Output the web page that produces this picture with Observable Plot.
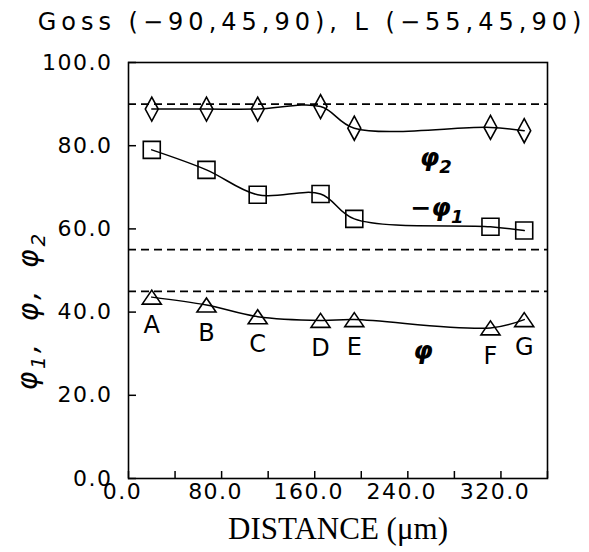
<!DOCTYPE html>
<html>
<head>
<meta charset="utf-8">
<script src="https://cdn.jsdelivr.net/npm/d3@7"></script>
<script src="https://cdn.jsdelivr.net/npm/@observablehq/plot@0.6"></script>
<style>
  html, body { margin: 0; padding: 0; background: #fff; }
</style>
</head>
<body>
<div id="chart"></div>
<script>
// ---- data ----
const points   = ["A", "B", "C", "D", "E", "F", "G"];
const distance = [20, 67, 111, 165, 194, 311, 340];           // µm
const phi2     = [88.8, 88.8, 88.8, 89.4, 84.2, 84.4, 83.6];  // diamonds
const negPhi1  = [79.0, 74.2, 68.2, 68.4, 62.4, 60.5, 59.6];  // squares (−φ1)
const phi      = [43.6, 41.7, 38.9, 38.0, 38.2, 36.2, 38.2];  // triangles
const referenceLevels = [90, 55, 45];                          // dashed lines

const yTicks      = [0, 20, 40, 60, 80, 100];
const xTicks      = [0, 40, 80, 120, 160, 200, 240, 280, 320, 360];
const xTickLabels = [0, 80, 160, 240, 320];

const curveLabels = ["φ₂", "−φ₁", "φ"];
const curveLabelX = [264, 265, 253];
const curveLabelY = [77.1, 65.1, 30.7];

const titleText = "Goss (−90,45,90), L (−55,45,90)";
const xLabel = "DISTANCE (μm)";
const yLabel = "φ₁, φ, φ₂";

// ---- tables built from the arrays ----
const rows = points.map((p, i) => ({point: p, distance: distance[i], phi2: phi2[i], negPhi1: negPhi1[i], phi: phi[i]}));
const labelRows = curveLabels.map((t, i) => ({text: t, x: curveLabelX[i], y: curveLabelY[i]}));

// ---- custom marker shapes ----
const tallDiamond = {draw(ctx, size) {
  const r = Math.sqrt(size / Math.PI), w = r * 0.54;
  ctx.moveTo(0, -r); ctx.lineTo(w, 0); ctx.lineTo(0, r); ctx.lineTo(-w, 0); ctx.closePath();
}};
const openSquare = {draw(ctx, size) {
  const r = Math.sqrt(size / Math.PI);
  ctx.moveTo(-r, -r); ctx.lineTo(r, -r); ctx.lineTo(r, r); ctx.lineTo(-r, r); ctx.closePath();
}};
const openTriangle = {draw(ctx, size) {
  const r = Math.sqrt(size / Math.PI), w = r * 1.36;
  ctx.moveTo(0, -r); ctx.lineTo(w, r); ctx.lineTo(-w, r); ctx.closePath();
}};

const lineStyle = {stroke: "black", strokeWidth: 1.5, curve: "catmull-rom"};
const dotStyle = {stroke: "black", strokeWidth: 1.6, fill: "none"};

const chart = Plot.plot({
  width: 589,
  height: 552,
  marginLeft: 128,
  marginRight: 42,
  marginTop: 62,
  marginBottom: 74,
  style: {fontFamily: "DejaVu Sans", fontSize: "22px", color: "black", background: "white"},
  x: {domain: [0, 360], label: null},
  y: {domain: [0, 100], label: null},
  marks: [
    Plot.frame({stroke: "black", strokeWidth: 1.6}),
    Plot.ruleY(referenceLevels, {stroke: "black", strokeWidth: 1.7, strokeDasharray: "8,5"}),
    Plot.axisY({ticks: yTicks, tickSize: -8, tickPadding: 24, tickFormat: d => d.toFixed(1), strokeWidth: 1.5}),
    Plot.axisX({ticks: xTicks, tickSize: -7, tickFormat: () => "", strokeWidth: 1.5}),
    Plot.axisX({ticks: xTickLabels, tickSize: 0, tickPadding: 5, dx: -6, tickFormat: d => d.toFixed(1)}),
    Plot.line(rows, {x: "distance", y: "phi2", ...lineStyle}),
    Plot.line(rows, {x: "distance", y: "negPhi1", ...lineStyle}),
    Plot.line(rows, {x: "distance", y: "phi", ...lineStyle}),
    Plot.dot(rows, {x: "distance", y: "phi2", r: 12, symbol: tallDiamond, ...dotStyle}),
    Plot.dot(rows, {x: "distance", y: "negPhi1", r: 8.5, symbol: openSquare, ...dotStyle}),
    Plot.dot(rows, {x: "distance", y: "phi", r: 7, symbol: openTriangle, ...dotStyle}),
    Plot.text(rows, {x: "distance", y: "phi", text: "point", dy: 28, fontSize: 24, fill: "black"}),
    Plot.text(labelRows, {x: "x", y: "y", text: "text", fontSize: 25, fontStyle: "italic", fontWeight: "bold", fill: "black"}),
    Plot.text([titleText], {frameAnchor: "top", textAnchor: "middle", dx: -26, dy: -40, lineAnchor: "middle", fontSize: 24, fill: "black"}),
    Plot.text([xLabel], {frameAnchor: "bottom", textAnchor: "middle", dy: 51, lineAnchor: "middle", fontSize: 31, fontFamily: "Liberation Serif", fill: "black"}),
    Plot.text([yLabel], {frameAnchor: "left", textAnchor: "middle", dx: -100, dy: 40, rotate: -90, lineAnchor: "middle", fontSize: 28, fontStyle: "italic", fill: "black"})
  ]
});

// real subscripts (larger than the Unicode subscript glyphs)
const SUB = {"₀": "0", "₁": "1", "₂": "2", "₃": "3"};
const NS = "http://www.w3.org/2000/svg";
function subscriptify(el) {
  const t = el.textContent;
  if (![...t].some(c => SUB[c])) return;
  el.textContent = "";
  let lowered = false;
  for (const ch of t) {
    const ts = document.createElementNS(NS, "tspan");
    if (SUB[ch]) {
      ts.textContent = SUB[ch];
      ts.setAttribute("font-size", "72%");
      ts.setAttribute("dy", "0.38em");
      lowered = true;
    } else {
      ts.textContent = ch;
      if (lowered) { ts.setAttribute("dy", "-0.27em"); lowered = false; }
    }
    el.appendChild(ts);
  }
}

d3.select(chart).selectAll("text").each(function() {
  const t = this.textContent;
  if (t === titleText) this.setAttribute("letter-spacing", "5");
  else if (/^\d+\.\d$/.test(t)) this.setAttribute("letter-spacing", "1.5");
  else if (t === yLabel) { this.setAttribute("letter-spacing", "3"); this.setAttribute("word-spacing", "8"); subscriptify(this); }
  else if (curveLabels.includes(t)) subscriptify(this);
});

document.getElementById("chart").appendChild(chart);
</script>
</body>
</html>
